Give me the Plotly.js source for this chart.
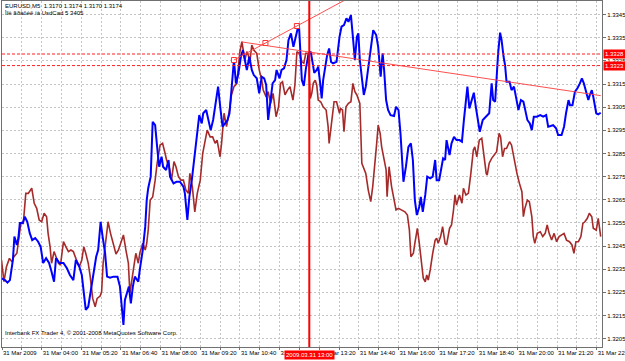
<!DOCTYPE html>
<html><head><meta charset="utf-8">
<script src="https://cdn.plot.ly/plotly-3.0.1.min.js"></script>
<style>html,body{margin:0;padding:0;background:#fff}#c{width:625px;height:361px}</style>
</head><body><div id="c"></div>
<script>
// times are minutes after 00:00 on 31 Mar 2009 (M5 chart)
var blueT = [159,166,171,176,182,185,190,193,196,202, 206,211,216,221,227,233,238,243,249,255,
 260,265,269,276,284,291,297,304,309,316, 321,325,329,334,339,344,350,354,359,363,
 368,372,378,385,393,398,401,405,408,413, 416,420,424,428,432,435,438,444,449,452,
 455,460,464,469,473,477,482,485,491,496, 499,506,512,519,526,529,534,538,543,547,
 553,558,563,566,572,576,581,586,591,596, 601,605,610,615,619,623,628,632,637,642,
 646,650,654,659,664,668,674,679,684,689, 693,697,702,706,711,714,720,724,729,734,
 738,743,748,755,759,765,769,773,778,783, 787,790,795,798,802,805,808,812,816,820,
 824,828,835,841,845,850,855,859,864,868, 872,876,879,882,886,890,894,899,904,909,
 915,919,924,928,931,935,939,944,951,955, 960,964,970,975,980,985,989,993,997,1002,
 1005,1009,1014,1018,1024,1029,1034,1037,1042,1047, 1050,1054,1057,1063,1067,1072,1077,1083,1088,1092,
 1096,1099,1103,1108,1112,1116,1121,1124,1130,1137, 1143,1148,1151,1155,1158,1161,1165,1168,1172,1175,
 1178,1184,1188,1193,1197,1202,1207,1212,1215,1220, 1225,1229,1233,1239,1246,1252,1258,1262,1267,1272,
 1278,1282,1289,1294,1298,1303,1306,1311,1316,1321, 1326,1330,1334,1338,1343,1346,1350,1353,1359,1363,1368];
var blueP = [1.32311,1.32303,1.32292,1.32303,1.32390,1.32491,1.32455,1.32485,1.32550,1.32551,
 1.32577,1.32555,1.32506,1.32476,1.32485,1.32469,1.32447,1.32377,1.32398,1.32377,
 1.32339,1.32296,1.32398,1.32377,1.32377,1.32354,1.32325,1.32303,1.32390,1.32361,
 1.32325,1.32260,1.32174,1.32188,1.32260,1.32332,1.32404,1.32433,1.32555,1.32491,
 1.32420,1.32318,1.32313,1.32318,1.32318,1.32275,1.32203,1.32109,1.32217,1.32260,
 1.32275,1.32203,1.32275,1.32318,1.32303,1.32296,1.32347,1.32433,1.32534,1.32649,
 1.32700,1.32750,1.32987,1.32973,1.32879,1.32793,1.32836,1.32793,1.32779,1.32822,
 1.32750,1.32721,1.32728,1.32728,1.32707,1.32678,1.32563,1.32663,1.32735,1.32808,
 1.32908,1.33016,1.32980,1.33024,1.33038,1.32995,1.32951,1.32995,1.33067,1.33139,
 1.33038,1.32966,1.32980,1.32995,1.33024,1.33139,1.33254,1.33153,1.33196,1.33268,
 1.33297,1.33254,1.33211,1.33268,1.33211,1.33189,1.33175,1.33110,1.33182,1.33175,
 1.33146,1.32995,1.33081,1.33153,1.33167,1.33211,1.33175,1.33211,1.33218,1.33254,
 1.33340,1.33369,1.33311,1.33376,1.33412,1.33167,1.33142,1.33215,1.33275,1.33290,
 1.33240,1.33199,1.33211,1.33225,1.33153,1.33088,1.33167,1.33225,1.33275,1.33304,
 1.33246,1.33240,1.33246,1.33354,1.33398,1.33405,1.33434,1.33419,1.33448,1.33354,
 1.33254,1.33354,1.33369,1.33254,1.33182,1.33103,1.33139,1.33225,1.33297,1.33383,
 1.33362,1.33311,1.33182,1.33283,1.33211,1.33081,1.33038,1.33016,1.33012,1.33052,
 1.33038,1.32937,1.32728,1.32793,1.32879,1.32894,1.32822,1.32649,1.32584,1.32620,
 1.32663,1.32598,1.32671,1.32750,1.32743,1.32750,1.32822,1.32735,1.32735,1.32793,
 1.32829,1.32822,1.32908,1.32843,1.32894,1.32922,1.32908,1.32908,1.32901,1.32995,
 1.33081,1.33139,1.33045,1.33081,1.33113,1.33052,1.32980,1.32944,1.32995,1.33009,
 1.33024,1.33153,1.33081,1.33074,1.33211,1.33283,1.33372,1.33340,1.33268,1.33232,
 1.33160,1.33160,1.33124,1.33139,1.33095,1.33038,1.33081,1.33074,1.33045,1.32995,
 1.32980,1.32951,1.33009,1.33009,1.33016,1.33009,1.33016,1.32966,1.32969,1.32973,
 1.32959,1.32930,1.32930,1.32966,1.33024,1.33081,1.33059,1.33059,1.33117,1.33132,
 1.33153,1.33175,1.33153,1.33117,1.33081,1.33103,1.33124,1.33095,1.33024,1.33019,1.33026];

var brownT = [159,164,169,175,180,184,190,193,198,203, 208,213,220,225,230,235,240,245,250,253,
 257,260,265,269,274,278,284,289,294,299, 304,309,316,321,325,329,334,338,343,348,
 352,358,361,364,370,374,379,385,390,395, 400,405,410,415,418,422,425,430,435,438,
 444,449,452,455,459,464,469,473,479,484, 489,492,498,502,507,511,516,521,526,531,
 536,539,544,549,554,560,565,570,574,580, 585,590,594,600,603,608,613,619,623,628,
 634,637,640,644,647,650,654,657,660,664, 668,674,679,684,687,693,697,702,707,713,
 718,722,726,731,736,741,747,751,755,760, 765,769,773,778,782,785,788,792,795,798,
 803,808,814,818,820,825,830,835,841,843, 847,850,854,859,864,868,872,876,879,882,
 886,890,894,899,904,908,913,916,919,923, 926,931,935,937,941,946,951,955,960,966,
 973,978,982,985,990,993,998,1002,1007,1010, 1014,1017,1020,1024,1029,1034,1037,1040,1045,1049,
 1054,1057,1063,1067,1071,1074,1077,1083,1088,1091, 1096,1101,1106,1111,1114,1118,1123,1128,1131,1137,
 1139,1143,1148,1153,1158,1163,1166,1170,1174,1178, 1184,1188,1193,1199,1204,1209,1212,1215,1220,1224,
 1229,1232,1235,1240,1246,1251,1256,1260,1264,1269, 1274,1279,1284,1289,1294,1299,1305,1310,1314,1318,
 1323,1328,1332,1336,1341,1345,1350,1353,1359,1363,1368];
var brownP = [1.32390,1.32296,1.32361,1.32397,1.32382,1.32404,1.32419,1.32476,1.32548,1.32548,
 1.32678,1.32678,1.32700,1.32635,1.32613,1.32563,1.32555,1.32592,1.32577,1.32505,
 1.32447,1.32376,1.32426,1.32404,1.32376,1.32368,1.32469,1.32447,1.32426,1.32433,
 1.32426,1.32397,1.32361,1.32390,1.32447,1.32419,1.32376,1.32318,1.32224,1.32188,
 1.32224,1.32234,1.32253,1.32376,1.32476,1.32555,1.32505,1.32462,1.32416,1.32433,
 1.32462,1.32498,1.32433,1.32376,1.32246,1.32303,1.32347,1.32419,1.32376,1.32419,
 1.32462,1.32433,1.32462,1.32519,1.32649,1.32662,1.32735,1.32808,1.32887,1.32894,
 1.32851,1.32822,1.32786,1.32735,1.32815,1.32793,1.32750,1.32735,1.32735,1.32692,
 1.32678,1.32764,1.32707,1.32598,1.32678,1.32735,1.32851,1.32908,1.32951,1.32922,
 1.32922,1.32894,1.32908,1.32836,1.32894,1.33024,1.32966,1.33038,1.33103,1.33139,
 1.33153,1.33225,1.33290,1.33333,1.33283,1.33254,1.33290,1.33275,1.33240,1.33319,
 1.33297,1.33283,1.33211,1.33167,1.33124,1.33095,1.33117,1.33067,1.33110,1.33009,
 1.33052,1.33153,1.33160,1.33103,1.33124,1.33139,1.33081,1.33146,1.33290,1.33283,
 1.33246,1.33240,1.33283,1.33283,1.33088,1.33110,1.33153,1.33167,1.33146,1.33081,
 1.33074,1.33052,1.33038,1.32966,1.32894,1.32995,1.33074,1.33074,1.33024,1.33045,
 1.33038,1.32944,1.33052,1.33067,1.33074,1.33153,1.33117,1.33103,1.33081,1.33067,
 1.32808,1.32786,1.32764,1.32692,1.32642,1.32707,1.32808,1.32894,1.32973,1.32937,
 1.32879,1.32815,1.32779,1.32663,1.32793,1.32707,1.32649,1.32606,1.32613,1.32606,
 1.32598,1.32584,1.32519,1.32404,1.32419,1.32462,1.32527,1.32462,1.32376,1.32311,
 1.32296,1.32325,1.32303,1.32347,1.32419,1.32476,1.32484,1.32462,1.32491,1.32534,
 1.32462,1.32455,1.32527,1.32541,1.32606,1.32671,1.32627,1.32671,1.32635,1.32700,
 1.32671,1.32678,1.32764,1.32865,1.32879,1.32836,1.32908,1.32916,1.32865,1.32764,
 1.32757,1.32808,1.32829,1.32843,1.32858,1.32937,1.32922,1.32836,1.32872,1.32872,
 1.32901,1.32887,1.32822,1.32764,1.32721,1.32685,1.32577,1.32613,1.32649,1.32642,
 1.32577,1.32491,1.32462,1.32505,1.32512,1.32491,1.32505,1.32541,1.32505,1.32476,
 1.32505,1.32469,1.32491,1.32498,1.32505,1.32476,1.32469,1.32455,1.32419,1.32469,
 1.32469,1.32491,1.32548,1.32555,1.32570,1.32592,1.32577,1.32527,1.32519,1.32570,1.32491];

var gridT = [160,200,240,280,320,360,400,440,480,520,560,600,640,680,720,760,800,840,880,920,960,1000,1040,1080,1120,1160,1200,1240,1280,1320,1360];
var labelText = ["31 Mar 2009","31 Mar 04:00","31 Mar 05:20","31 Mar 06:40","31 Mar 08:00","31 Mar 09:20","31 Mar 10:40","31 Mar 12:00","31 Mar 13:20","31 Mar 14:40","31 Mar 16:00","31 Mar 17:20","31 Mar 18:40","31 Mar 20:00","31 Mar 21:20","31 Mar 22:40"];
var priceTicks = [1.3205,1.3215,1.3225,1.3235,1.3245,1.3255,1.3265,1.3275,1.3285,1.3295,1.3305,1.3315,1.3325,1.3335,1.3345];
var hLevels = [1.3328, 1.3323];
var vLineT = 780; var vLineLabel = "2009.03.31 13:00";
var trend1T = [628, 755], trend1P = [1.33254, 1.33401];
var trend2T = [644, 1368], trend2P = [1.33332, 1.33100];
var headerText = ["EURUSD,M5  1.3170 1.3174 1.3170 1.3174", "Ìîé ãðàôèê íà UsdCad 5 3405"];
var footerText = "Interbank FX Trader 4, © 2001-2008 MetaQuotes Software Corp.";

var xRange = [160, 1370.6], yRange = [1.32014, 1.33509];
var F = "Liberation Sans, Arial, sans-serif";

var tickText = gridT.map(function(t, i){ return i % 2 === 0 ? labelText[i/2] : ""; });

// ray extension of trendline 1
var s1 = (trend1P[1]-trend1P[0])/(trend1T[1]-trend1T[0]);
var rayEndT = xRange[1];
var rayEndP = trend1P[0] + s1*(rayEndT - trend1T[0]);

var traces = [
 {x: brownT, y: brownP, type:'scatter', mode:'lines', line:{color:'#a52a2a', width:1.6}, hoverinfo:'skip'},
 {x: blueT, y: blueP, type:'scatter', mode:'lines', line:{color:'#0000ff', width:2}, hoverinfo:'skip'},
 {x: [trend1T[0], (trend1T[0]+trend1T[1])/2, trend1T[1]], y:[trend1P[0], (trend1P[0]+trend1P[1])/2, trend1P[1]],
  type:'scatter', mode:'markers', marker:{symbol:'square', size:5, color:'#ffffff', line:{color:'#ff3030', width:1}}, hoverinfo:'skip'}
];

var shapes = [];
hLevels.forEach(function(l){
  shapes.push({type:'line', xref:'paper', x0:0, x1:1, yref:'y', y0:l, y1:l, line:{color:'#ff2020', width:1, dash:'3px,2px'}});
});
shapes.push({type:'line', xref:'x', yref:'y', x0:trend1T[0], y0:trend1P[0], x1:rayEndT, y1:rayEndP, line:{color:'rgba(255,60,60,0.9)', width:1}});
shapes.push({type:'line', xref:'x', yref:'y', x0:trend2T[0], y0:trend2P[0], x1:trend2T[1], y1:trend2P[1], line:{color:'rgba(255,60,60,0.9)', width:1}});
shapes.push({type:'line', xref:'x', yref:'paper', x0:vLineT, x1:vLineT, y0:0, y1:1, line:{color:'#ff0000', width:2}});

var ann = [];
ann.push({xref:'paper', yref:'paper', x:0, y:1, xanchor:'left', yanchor:'top', xshift:1, yshift:0, text:headerText[0], showarrow:false, font:{family:F, size:6, color:'#000'}});
ann.push({xref:'paper', yref:'paper', x:0, y:1, xanchor:'left', yanchor:'top', xshift:1, yshift:-7, text:headerText[1], showarrow:false, font:{family:F, size:6, color:'#000'}});
ann.push({xref:'paper', yref:'paper', x:0, y:0, xanchor:'left', yanchor:'bottom', xshift:1, yshift:9, text:footerText, showarrow:false, font:{family:F, size:6, color:'#000'}});
hLevels.forEach(function(l){
  ann.push({xref:'paper', yref:'y', x:1, y:l, xanchor:'left', yanchor:'middle', xshift:1, text:l.toFixed(4), showarrow:false, bgcolor:'#ff0000', borderpad:1, font:{family:F, size:6, color:'#ffffff'}});
});
ann.push({xref:'x', yref:'paper', x:vLineT, y:0, xanchor:'center', yanchor:'top', yshift:-3, text:vLineLabel, showarrow:false, bgcolor:'#ff0000', borderpad:1, font:{family:F, size:6, color:'#ffffff'}});

var layout = {
  width:625, height:361,
  margin:{l:2, r:23, t:1, b:14},
  paper_bgcolor:'#ffffff', plot_bgcolor:'#ffffff',
  showlegend:false,
  xaxis:{range:xRange, tickvals:gridT, ticktext:tickText, tickangle:0, ticklabelposition:'outside right', ticklabeloverflow:'allow',
    showgrid:true, gridcolor:'#c4c4c4', griddash:'2px,2px', gridwidth:1, zeroline:false,
    showline:true, linecolor:'#707070', linewidth:1, mirror:true, ticks:'outside', ticklen:2, tickcolor:'#707070',
    tickfont:{family:F, size:6, color:'#000'}, fixedrange:true},
  yaxis:{range:yRange, side:'right', tickvals:priceTicks, ticktext:priceTicks.map(function(v){return v.toFixed(4);}),
    showgrid:true, gridcolor:'#c4c4c4', griddash:'2px,2px', gridwidth:1, zeroline:false,
    showline:true, linecolor:'#707070', linewidth:1, mirror:true, ticks:'outside', ticklen:3, tickcolor:'#707070',
    tickfont:{family:F, size:6, color:'#000'}, fixedrange:true},
  shapes:shapes, annotations:ann, hovermode:false
};
Plotly.newPlot('c', traces, layout, {staticPlot:true, displayModeBar:false});
</script></body></html>
